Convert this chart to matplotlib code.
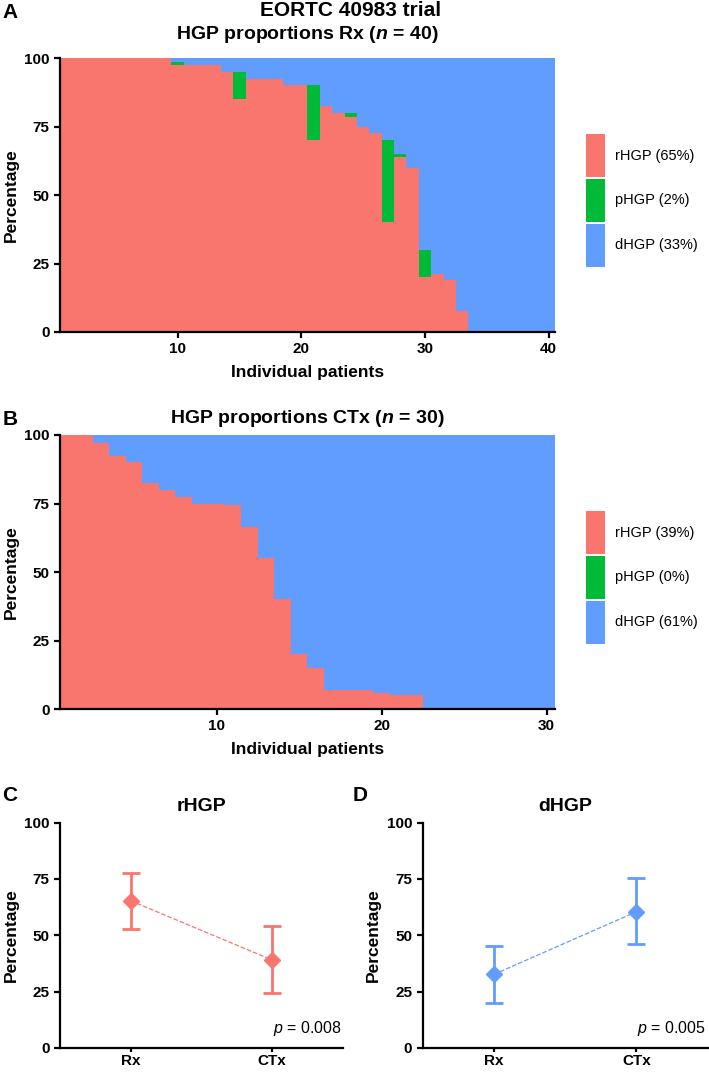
import numpy as np
import matplotlib
matplotlib.use('Agg')
import matplotlib.pyplot as plt
from matplotlib.patches import Patch

plt.rcParams['font.family'] = ['Liberation Sans', 'DejaVu Sans']
plt.rcParams['mathtext.fontset'] = 'custom'
plt.rcParams['mathtext.it'] = 'Liberation Sans:italic:bold'
plt.rcParams['mathtext.sf'] = 'Liberation Sans:italic'

RED = '#F8766D'
GREEN = '#00BA38'
BLUE = '#619CFF'

# per-patient HGP proportions (%), sorted as in the figure
rx_rhgp = [100, 100, 100, 100, 100, 100, 100, 100, 100, 97.5,
           97.5, 97.5, 97.5, 95, 85, 92.5, 92.5, 92.5, 90, 90,
           70, 82.5, 80, 78.5, 75, 72.5, 40, 64, 60, 20,
           21, 19, 7.5, 0, 0, 0, 0, 0, 0, 0]
rx_phgp = [0, 0, 0, 0, 0, 0, 0, 0, 0, 1,
           0, 0, 0, 0, 10, 0, 0, 0, 0, 0,
           20, 0, 0, 1.5, 0, 0, 30, 1, 0, 10,
           0, 0, 0, 0, 0, 0, 0, 0, 0, 0]

ctx_rhgp = [100, 100, 97, 92.5, 90, 82.5, 80, 77.5, 75, 75,
            74.5, 66.5, 55, 40, 20, 15, 7, 7, 7, 6,
            5, 5, 0, 0, 0, 0, 0, 0, 0, 0]
ctx_phgp = [0] * 30

rx_labels = ['rHGP (65%)', 'pHGP (2%)', 'dHGP (33%)']
ctx_labels = ['rHGP (39%)', 'pHGP (0%)', 'dHGP (61%)']

groups = ['Rx', 'CTx']
rhgp_mean = [65.3, 39.0]
rhgp_lo = [52.7, 24.4]
rhgp_hi = [77.8, 54.2]
dhgp_mean = [32.6, 60.4]
dhgp_lo = [20.0, 46.0]
dhgp_hi = [45.3, 75.5]
p_values = ['0.008', '0.005']


def style_axes(ax):
    for s in ['top', 'right']:
        ax.spines[s].set_visible(False)
    for s in ['left', 'bottom']:
        ax.spines[s].set_linewidth(1.6)
    ax.tick_params(width=1.6, length=4, labelsize=11)
    for lab in ax.get_xticklabels() + ax.get_yticklabels():
        lab.set_fontweight('bold')


def stacked(ax, r, p, labels, title, pad):
    r = np.array(r)
    p = np.array(p)
    d = 100 - r - p
    x = np.arange(1, len(r) + 1)
    ax.bar(x, r, width=1.0, color=RED, linewidth=0)
    ax.bar(x, p, width=1.0, bottom=r, color=GREEN, linewidth=0)
    ax.bar(x, d, width=1.0, bottom=r + p, color=BLUE, linewidth=0)
    ax.set_xlim(0.5, len(r) + 0.5)
    ax.set_ylim(0, 100)
    ax.set_yticks([0, 25, 50, 75, 100])
    ax.set_xticks(np.arange(10, len(r) + 1, 10))
    ax.set_xlabel('Individual patients', fontsize=12.5, fontweight='bold', labelpad=6)
    ax.set_ylabel('Percentage', fontsize=12.5, fontweight='bold', labelpad=4)
    ax.set_title(title, fontsize=14, fontweight='bold', pad=pad)
    style_axes(ax)
    handles = [Patch(facecolor=c, edgecolor='none') for c in [RED, GREEN, BLUE]]
    ax.legend(handles, labels, loc='center left', bbox_to_anchor=(1.063, 0.48),
              frameon=False, fontsize=10.5, handlelength=1.3, handleheight=4.15,
              labelspacing=0.12, handletextpad=0.7, borderaxespad=0, borderpad=0)


def means(ax, mean, lo, hi, color, title, pval):
    x = np.arange(len(groups))
    err = [np.array(mean) - np.array(lo), np.array(hi) - np.array(mean)]
    ax.plot(x, mean, linestyle='--', color=color, linewidth=0.9)
    ax.errorbar(x, mean, yerr=err, fmt='D', color=color, markersize=8.5,
                elinewidth=2, capsize=6.5, capthick=2)
    ax.set_xlim(-0.5, 1.5)
    ax.set_ylim(0, 100)
    ax.set_yticks([0, 25, 50, 75, 100])
    ax.set_xticks(x)
    ax.set_xticklabels(groups)
    ax.set_ylabel('Percentage', fontsize=12.5, fontweight='bold', labelpad=4)
    ax.set_title(title, fontsize=14, fontweight='bold', pad=8.5)
    style_axes(ax)
    ax.tick_params(axis='x', length=3, pad=1.5)
    ax.text(0.995, 0.045, r'$\mathsf{p}$ = ' + pval, transform=ax.transAxes,
            ha='right', va='bottom', fontsize=11.5)


fig = plt.figure(figsize=(7.09, 10.73), dpi=100)

axA = fig.add_axes([0.0846, 0.6906, 0.698, 0.2553])
axB = fig.add_axes([0.0846, 0.3392, 0.698, 0.2554])
axC = fig.add_axes([0.0846, 0.0235, 0.399, 0.2098])
axD = fig.add_axes([0.596, 0.0235, 0.402, 0.2098])

stacked(axA, rx_rhgp, rx_phgp, rx_labels, r'HGP proportions Rx ($n$ = 40)', 14)
stacked(axB, ctx_rhgp, ctx_phgp, ctx_labels, r'HGP proportions CTx ($n$ = 30)', 8.5)
means(axC, rhgp_mean, rhgp_lo, rhgp_hi, RED, 'rHGP', p_values[0])
means(axD, dhgp_mean, dhgp_lo, dhgp_hi, BLUE, 'dHGP', p_values[1])

fig.text(0.495, 0.9905, 'EORTC 40983 trial', ha='center', va='center', fontsize=15, fontweight='bold')
for letter, (x, y) in zip('ABCD', [(0.003, 0.988), (0.003, 0.6095), (0.003, 0.259), (0.497, 0.259)]):
    fig.text(x, y, letter, ha='left', va='center', fontsize=15, fontweight='bold')

fig.savefig('out.png', dpi=100)
